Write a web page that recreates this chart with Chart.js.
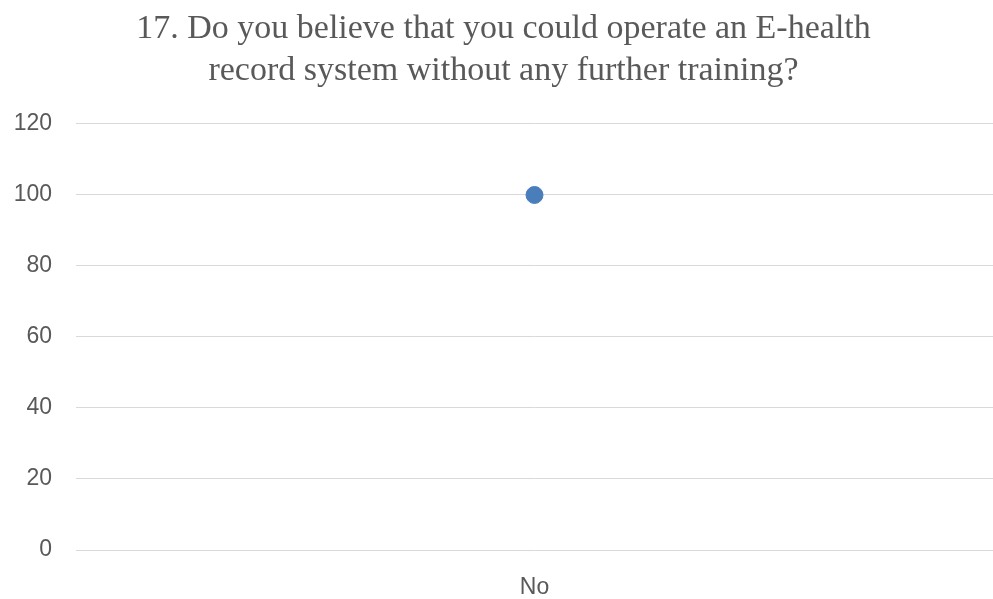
<!DOCTYPE html>
<html>
<head>
<meta charset="utf-8">
<script src="https://cdn.jsdelivr.net/npm/chart.js@4"></script>
<style>
  html, body { margin: 0; padding: 0; background: #fff; }
  #wrap { width: 993px; height: 599px; }
</style>
</head>
<body>
<div id="wrap"><canvas id="chart-q17"></canvas></div>
<script>
const titleLines = ['17. Do you believe that you could operate an E-health', 'record system without any further training?'];
const categories = ['No'];
const values = [100];
const yTicks = [0, 20, 40, 60, 80, 100, 120];

const textColor = '#595959';

new Chart(document.getElementById('chart-q17'), {
    type: 'line',
    data: {
        labels: categories,
        datasets: [{
            data: values,
            borderColor: '#4a7ebb',
            backgroundColor: '#4a7ebb',
            pointRadius: 8.5,
            pointHoverRadius: 8.5,
            showLine: false,
        }],
    },
    options: {
        responsive: true,
        maintainAspectRatio: false,
        animation: false,
        layout: {
            autoPadding: false,
            padding: { left: 14, right: 0, top: 2, bottom: 0 },
        },
        plugins: {
            legend: { display: false },
            tooltip: { enabled: false },
            title: {
                display: true,
                text: titleLines,
                color: textColor,
                font: { family: '"Liberation Serif", "Times New Roman", serif', size: 34, weight: 'normal', lineHeight: 1.235 },
                padding: { top: 6, bottom: 32 },
            },
        },
        scales: {
            x: {
                offset: true,
                grid: { display: false, drawTicks: false },
                border: { display: false },
                ticks: {
                    color: textColor,
                    font: { family: '"Liberation Sans", Arial, sans-serif', size: 23 },
                    padding: 24,
                },
                // keep the axis tight: label row only, no side padding
                afterFit: (scale) => {
                    scale.height = 49;
                    scale.paddingLeft = 0;
                    scale.paddingRight = 0;
                },
            },
            y: {
                min: 0,
                max: 120,
                afterBuildTicks: (axis) => {
                    axis.ticks = yTicks.map(v => ({ value: v }));
                },
                grid: { color: '#d9d9d9', drawTicks: false, lineWidth: 1 },
                border: { display: false },
                ticks: {
                    color: textColor,
                    font: { family: '"Liberation Sans", Arial, sans-serif', size: 23 },
                    padding: 24,
                },
                afterFit: (scale) => {
                    scale.width = 62;
                },
            },
        },
    },
});
</script>
</body>
</html>
